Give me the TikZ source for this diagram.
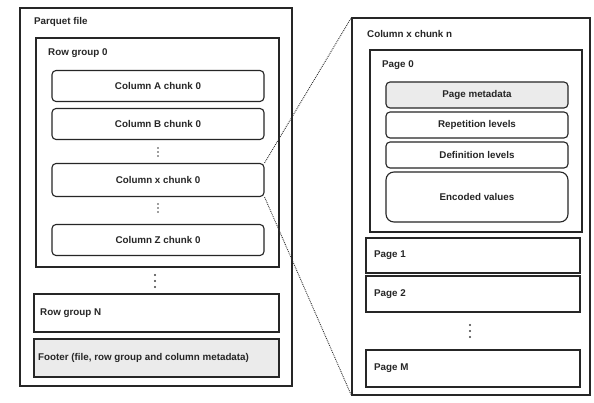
\documentclass[tikz,border=0pt]{standalone}
\usepackage{fontspec}
\setmainfont{Liberation Sans}
\begin{document}
\begin{tikzpicture}[x=1pt,y=-1pt,
  every node/.style={font=\bfseries\fontsize{9.8}{11}\selectfont, text=black!85},
  frame/.style={draw=black!85, line width=1.1pt, rectangle, inner sep=0pt},
  chunk/.style={frame, rounded corners=4pt},
  lbl/.style={anchor=west, inner sep=0pt},
  meta/.style={fill=black!8},
  zoomline/.style={draw=black!80, line width=0.9pt, densely dotted},
  dot/.style={fill=black!75, draw=none, circle, inner sep=0pt, minimum size=2.4pt}]
\useasboundingbox (0,0) rectangle (594,403);
\fill[white] (0,0) rectangle (594,403);

% ---- Parquet file ----
\node[frame, minimum width=272, minimum height=378] (file) at (156,197) {};
\node[lbl] (filelbl) at (34,22) {Parquet file};

\node[frame, minimum width=243, minimum height=229] (rg0) at (157.5,152.5) {};
\node[lbl] (rg0lbl) at (48,53) {Row group 0};

\node[chunk, minimum width=212, minimum height=31] (colA) at (158,86) {Column A chunk 0};
\node[chunk, minimum width=212, minimum height=31] (colB) at (158,124) {Column B chunk 0};
\node[chunk, minimum width=212, minimum height=33] (colX) at (158,180) {Column x chunk 0};
\node[chunk, minimum width=212, minimum height=31] (colZ) at (158,240) {Column Z chunk 0};

% vertical ellipses between chunks
\foreach \y [count=\i] in {148,152,156} \node[dot, minimum size=1.6pt] (da\i) at (158,\y) {};
\foreach \y [count=\i] in {204,208,212} \node[dot, minimum size=1.6pt] (db\i) at (158,\y) {};

% ellipsis between row groups
\foreach \y [count=\i] in {275,281,287} \node[dot] (dc\i) at (155,\y) {};

\node[frame, minimum width=245, minimum height=38] (rgN) at (156.5,313) {};
\node[lbl] (rgNlbl) at (40,313) {Row group N};

\node[frame, meta, minimum width=245, minimum height=38] (footer) at (156.5,358) {};
\node[lbl] (footerlbl) at (38,358) {Footer (file, row group and column metadata)};

% ---- Column chunk detail ----
\node[frame, minimum width=238, minimum height=377] (chunkn) at (471,206.5) {};
\node[lbl] (chunknlbl) at (367,34) {Column x chunk n};

\node[frame, minimum width=212, minimum height=182] (page0) at (476,141) {};
\node[lbl] (page0lbl) at (382,65) {Page 0};

\node[chunk, meta, minimum width=182, minimum height=26] (pmeta) at (477,95) {Page metadata};
\node[chunk, minimum width=182, minimum height=26] (rep) at (477,125) {Repetition levels};
\node[chunk, minimum width=182, minimum height=26] (def) at (477,155) {Definition levels};
\node[chunk, rounded corners=8pt, minimum width=182, minimum height=50] (enc) at (477,197) {Encoded values};

\node[frame, minimum width=214, minimum height=35] (page1) at (473,255.5) {};
\node[lbl] (page1lbl) at (374,255.5) {Page 1};
\node[frame, minimum width=214, minimum height=36] (page2) at (473,294) {};
\node[lbl] (page2lbl) at (374,294) {Page 2};

\foreach \y [count=\i] in {325,331,337} \node[dot] (dd\i) at (470,\y) {};

\node[frame, minimum width=214, minimum height=37] (pageM) at (473,368.5) {};
\node[lbl] (pageMlbl) at (374,368.5) {Page M};

% ---- zoom-in guides ----
\draw[zoomline] (colX.north east) -- (chunkn.north west);
\draw[zoomline] (colX.south east) -- (chunkn.south west);
\end{tikzpicture}
\end{document}
